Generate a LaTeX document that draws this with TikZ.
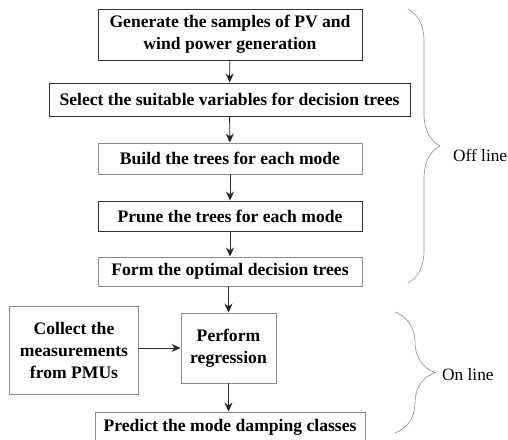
\documentclass[tikz,border=0pt]{standalone}
\usepackage{fontspec}
\setmainfont{Liberation Serif}
\usetikzlibrary{arrows.meta,decorations.pathreplacing}
\begin{document}
\begin{tikzpicture}[x=1pt,y=-1pt,
  box/.style={draw=black!80,line width=0.9pt,fill=white,inner sep=0pt,align=center,
    font=\fontsize{17.6}{22}\selectfont\bfseries},
  lbox/.style={box,draw=black!45},
  arr/.style={draw=black!85,line width=0.9pt,-{Stealth[length=9pt,width=8pt]}},
  brc/.style={draw=black!45,line width=0.6pt,decorate},
  lab/.style={font=\fontsize{17.3}{22}\selectfont,anchor=west,inner sep=0pt}]
\clip (0,0) rectangle (508,439);
\fill[white] (0,0) rectangle (508,439);
\node[box,minimum width=264pt,minimum height=51pt] (b1) at (230,34.5) {Generate the samples of PV and\\wind power generation};
\node[box,minimum width=361pt,minimum height=33pt] (b2) at (229.5,99.5) {Select the suitable variables for decision trees};
\node[lbox,minimum width=264pt,minimum height=31pt] (b3) at (230,158.5) {Build the trees for each mode};
\node[box,minimum width=264pt,minimum height=30pt] (b4) at (230,216) {Prune the trees for each mode};
\node[lbox,minimum width=264pt,minimum height=29pt] (b5) at (230,271.5) {Form the optimal decision trees};
\node[lbox,minimum width=129pt,minimum height=88pt] (col) at (74,350) {Collect the\\measurements\\from PMUs};
\node[lbox,minimum width=95pt,minimum height=70pt] (per) at (228.5,348) {Perform\\regression};
\node[lbox,minimum width=270pt,minimum height=30pt] (pre) at (230,427) {Predict the mode damping classes};
\draw[arr] (b1) -- (b2);
\draw[arr] (b2) -- (b3);
\draw[arr] (b3) -- (b4);
\draw[arr] (b4) -- (b5);
\draw[arr] (per.north |- b5.south) -- (per.north);
\draw[arr] (col.east |- per.west) -- (per.west);
\draw[arr] (per.south) -- (per.south |- pre.north);
\draw[brc,decoration={brace,amplitude=32pt}] (408,9) -- (408,283);
\draw[brc,decoration={brace,amplitude=40pt}] (395,312) -- (395,433);
\node[lab] (off) at (453,155) {Off line};
\node[lab] (on) at (442,375) {On line};
\end{tikzpicture}
\end{document}
